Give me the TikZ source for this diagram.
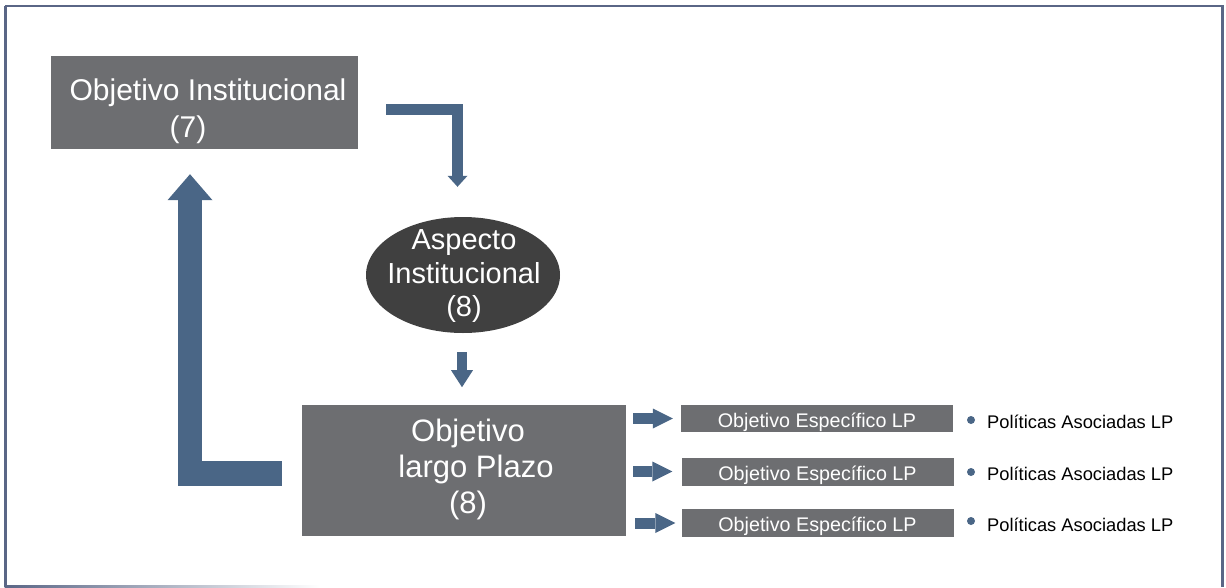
\documentclass[tikz,border=0pt]{standalone}
\usepackage{fontspec}
\setmainfont{Liberation Sans}
\usetikzlibrary{arrows.meta,calc,shapes.geometric}
\definecolor{boxgray}{RGB}{109,110,113}
\definecolor{ovaldark}{RGB}{64,64,64}
\definecolor{arrowblue}{RGB}{74,102,134}
\definecolor{framecol}{RGB}{90,102,134}
\begin{document}
\begin{tikzpicture}[x=1pt,y=-1pt,
  graybox/.style={fill=boxgray, draw=none, inner sep=0pt},
  bigtext/.style={text=white, font=\fontsize{29}{35}\selectfont, anchor=base, inner sep=0pt},
  smalltext/.style={text=white, font=\fontsize{19.7}{23}\selectfont, text height=17pt, text depth=0pt},
  bullettext/.style={text=black, font=\fontsize{18.3}{22}\selectfont, anchor=base west, inner sep=0pt},
  bulletdot/.style={circle, fill=arrowblue, draw=none, minimum size=8pt, inner sep=0pt},
  flow/.style={draw=arrowblue, line cap=butt, line join=miter},
  thinflow/.style={flow, line width=11pt, -{Triangle[width=20pt,length=11pt,line width=0pt]}},
  midflow/.style={flow, line width=10pt, -{Triangle[width=22pt,length=17pt,line width=0pt]}},
  bigflow/.style={flow, line width=24.5pt, -{Triangle[width=45pt,length=26pt,line width=0pt]}},
  sideflow/.style={flow, line width=11pt, -{Triangle[width=20pt,length=20pt,line width=0pt]}},
]
\useasboundingbox (0,0) rectangle (1226,587);

% outer frame
\draw[framecol, line width=2pt] (5,6) -- (1222.5,6);
\draw[framecol, line width=2.5pt] (5.5,6) -- (5.5,586);
\draw[framecol, line width=3pt] (1222.5,5) -- (1222.5,587);
\shade[left color=framecol, right color=white] (4.5,585) rectangle (320,587.5);

% top box
\node[graybox, minimum width=307pt, minimum height=93pt] (oi) at (204.5,102.5) {};
\node[bigtext, font=\fontsize{30}{36}\selectfont] (oi1) at (208,100) {Objetivo Institucional};
\node[bigtext, font=\fontsize{30}{36}\selectfont] (oi2) at (188,137) {(7)};

% oval
\node[ellipse, fill=ovaldark, draw=none, minimum width=194pt, minimum height=116pt, inner sep=0pt] (ai) at (463,275) {};
\node[bigtext] (ai1) at (464,249) {Aspecto};
\node[bigtext] (ai2) at (464,283) {Institucional};
\node[bigtext] (ai3) at (464,316) {(8)};

% long-term objective box
\node[graybox, minimum width=324pt, minimum height=131pt] (bb) at (464,470.5) {};
\node[bigtext, font=\fontsize{31}{36}\selectfont] (bb1) at (468,441) {Objetivo};
\node[bigtext, font=\fontsize{31}{36}\selectfont] (bb2) at (476,477) {largo Plazo};
\node[bigtext, font=\fontsize{31}{36}\selectfont] (bb3) at (468,513) {(8)};

% specific objectives
\node[graybox, smalltext, minimum width=272pt, minimum height=27pt] (ob1) at (817,418.5) {Objetivo Específico LP};
\node[graybox, smalltext, minimum width=272pt, minimum height=28pt] (ob2) at (817.5,471.5) {Objetivo Específico LP};
\node[graybox, smalltext, minimum width=272pt, minimum height=28pt] (ob3) at (817.5,523) {Objetivo Específico LP};

% associated policies
\node[bulletdot] (d1) at (971,420) {};
\node[bulletdot] (d2) at (971,472) {};
\node[bulletdot] (d3) at (971,521) {};
\node[bullettext] (p1) at (987,428) {Políticas Asociadas LP};
\node[bullettext] (p2) at (987,480) {Políticas Asociadas LP};
\node[bullettext] (p3) at (987,531) {Políticas Asociadas LP};

% connector start points beside the boxes
\coordinate (bbe) at ($(bb.east)+(7,0)$);
\coordinate (bbf) at ($(bb.east)+(9,0)$);

% connectors
\draw[thinflow] ($(oi.east)+(28,7)$) -| ($(ai.north)+(-5.5,-30)$);
\draw[midflow] ($(ai.south)+(-1,19)$) -- ($(ai.south)+(-1,54)$);
\draw[bigflow] ($(bb.west)+(-20,3)$) -| ($(oi.south)+(-14.5,25)$);
\draw[sideflow] (bbe |- ob1.west) -- ($(ob1.west)+(-8,0)$);
\draw[sideflow] (bbe |- ob2.west) -- ($(ob2.west)+(-9,0)$);
\draw[sideflow] (bbf |- ob3.west) -- ($(ob3.west)+(-6,0)$);
\end{tikzpicture}
\end{document}
